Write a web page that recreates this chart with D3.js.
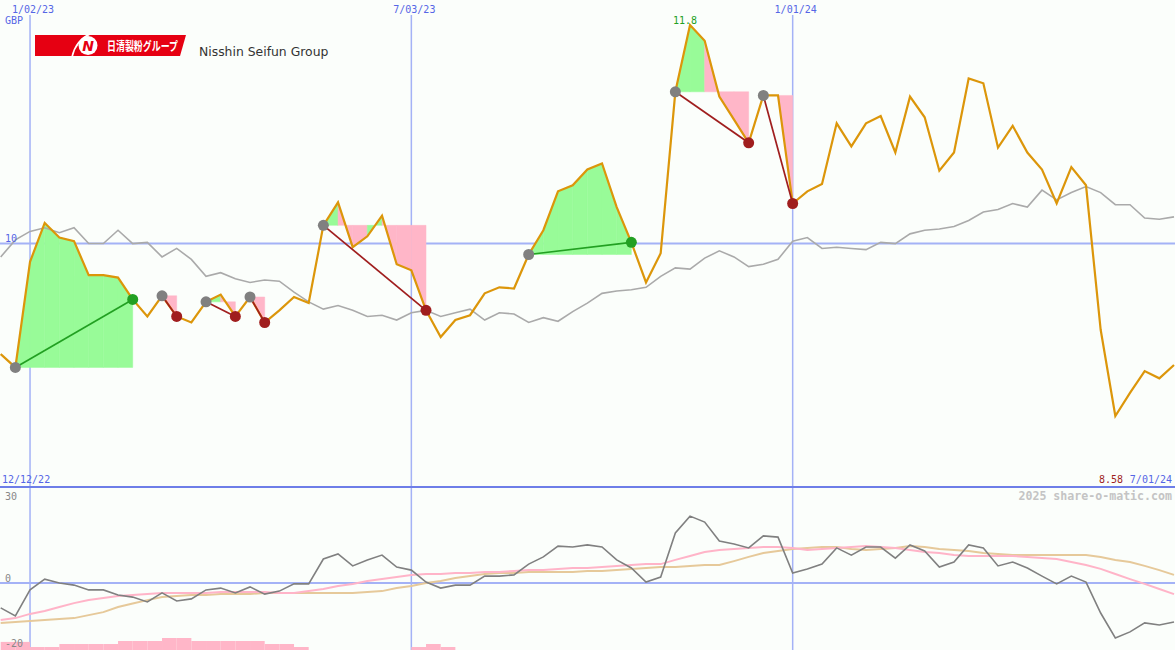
<!DOCTYPE html>
<html><head><meta charset="utf-8">
<script src="https://cdn.jsdelivr.net/npm/d3@7"></script>
<style>body{margin:0;background:#fbfefb}svg{display:block}</style>
</head><body><svg id="c" width="1175" height="650"></svg>
<script>
// ---------- data ----------
const startWeek = "2022-12-19", endWeek = "2024-07-01";
const price = [9.09, 8.98, 9.85, 10.17, 10.05, 10.02, 9.74, 9.74, 9.72, 9.54,
  9.40, 9.57, 9.40, 9.35, 9.52, 9.58, 9.40, 9.56, 9.35, 9.45,
  9.56, 9.51, 10.15, 10.34, 9.97, 10.06, 10.23, 9.83, 9.78, 9.45,
  9.23, 9.37, 9.41, 9.59, 9.64, 9.63, 9.91, 10.11, 10.43, 10.48,
  10.61, 10.66, 10.30, 10.01, 9.68, 9.92, 11.25, 11.80, 11.67, 11.21,
  11.02, 10.83, 11.22, 11.22, 10.33, 10.43, 10.49, 10.99, 10.80, 10.99,
  11.05, 10.75, 11.21, 11.04, 10.60, 10.75, 11.36, 11.32, 10.79, 10.97,
  10.75, 10.61, 10.33, 10.63, 10.48, 9.29, 8.58, 8.77, 8.95, 8.89, 9.00];
const compare = [9.89, 10.03, 10.10, 10.13, 10.09, 10.13, 10.00, 10.00, 10.11, 10.00,
  10.01, 9.89, 9.96, 9.87, 9.73, 9.76, 9.71, 9.68, 9.70, 9.69,
  9.60, 9.52, 9.46, 9.49, 9.45, 9.40, 9.41, 9.37, 9.43, 9.45,
  9.40, 9.43, 9.46, 9.37, 9.43, 9.42, 9.35, 9.39, 9.36, 9.44,
  9.51, 9.59, 9.61, 9.62, 9.64, 9.73, 9.80, 9.79, 9.88, 9.94,
  9.89, 9.81, 9.83, 9.87, 10.02, 10.05, 9.96, 9.97, 9.96, 9.95,
  10.01, 10.00, 10.08, 10.11, 10.12, 10.14, 10.19, 10.26, 10.28, 10.33,
  10.30, 10.44, 10.36, 10.42, 10.47, 10.42, 10.32, 10.32, 10.21, 10.20, 10.22];
const momentum = [-8.3, -11, -2.3, 1.3, 0, -0.7, -2.3, -2.3, -4, -4.7,
  -6.3, -3.3, -6, -5.3, -2.3, -1.7, -3.3, -1.3, -3.7, -2.7,
  -0.3, -0.3, 8, 9.7, 5.7, 7.7, 9.3, 5.3, 4.3, 0.3,
  -1.7, -0.7, -0.7, 2.3, 2.3, 2.7, 6.3, 8.7, 12.3, 12,
  12.7, 12, 7.7, 5, 0.3, 2, 16.7, 22.3, 20.3, 14,
  13, 11.7, 15.7, 15.3, 3.3, 4.7, 6.3, 11.7, 9.3, 12,
  12, 8.3, 12.7, 10.7, 5.3, 7, 12.7, 11.7, 5.7, 7,
  5, 2.3, -0.3, 2.3, 0.3, -10, -18.3, -16.3, -13.3, -14, -13];
const smoothFast = [-12.3, -11.7, -10.3, -9.3, -8, -6.7, -5.7, -5, -4.3, -4,
  -3.7, -3.3, -3.3, -3.3, -3.3, -3, -3, -3, -3, -3.3,
  -3.3, -2.7, -2, -1, -0.3, 0.7, 1.3, 2, 2.7, 3,
  3, 3.3, 3.3, 3.7, 3.7, 4, 4.3, 4.3, 4.7, 5,
  5, 5.3, 5.7, 6, 6.3, 6.3, 7.7, 9, 10.3, 11,
  11.3, 11.7, 12, 12, 11.7, 11, 11.3, 11.7, 12, 12.3,
  12, 11.7, 11, 10.3, 10, 9.3, 9, 9, 9, 9,
  8.7, 8.3, 8, 7, 6, 4.7, 3, 1.3, -0.3, -2, -3.7];
const smoothSlow = [-13.3, -13, -12.7, -12.3, -12, -11.7, -10.7, -9.7, -8, -6.8,
  -5.7, -4.7, -4.3, -4, -4, -3.7, -3.7, -3.7, -3.3, -3.3,
  -3.3, -3.3, -3.3, -3.3, -3.3, -3, -2.7, -1.7, -1, 0,
  0.7, 1.7, 2.3, 3, 3.3, 3.3, 3.7, 3.7, 3.7, 3.7,
  4, 4, 4.3, 4.7, 5, 5.3, 5.3, 5.7, 6, 6,
  7.3, 8.7, 10, 10.7, 11.3, 11.7, 12, 12, 11.3, 11,
  11.3, 11.7, 12.3, 12, 11.3, 11, 10.7, 10, 9.7, 9.3,
  9.3, 9.3, 9.3, 9.3, 9.3, 8.7, 7.7, 7, 5.7, 4.3, 2.7];
const riskBars = [2.7, 2.7, 1, 1, 2, 2, 2, 2, 3, 3, 3, 4, 4, 3, 3, 3, 3, 3, 2, 2, 1,
  0, 0, 0, 0, 0, 0, 0, 1, 2, 1];
const trades = [[1, 9], [11, 12], [14, 16], [17, 18], [22, 29], [36, 43], [46, 51], [52, 54]];
const dateTicks = ["2023-01-02", "2023-07-03", "2024-01-01"];
const priceTicks = [10];
const lowerTicks = [30, 0, -20];
const leftCornerLabel = "12/12/22", rightCornerLabel = "7/01/24";
const currency = "GBP";
const companyName = "Nisshin Seifun Group";
const logoText = "日清製粉グループ";
const credit = "2025 share-o-matic.com";

// ---------- setup ----------
const W = 1175, H = 650, SPLIT = 487;
const parse = d3.timeParse("%Y-%m-%d");
const weeks = d3.timeMonday.range(parse(startWeek), d3.timeDay.offset(parse(endWeek), 1));
const x = d3.scaleTime().domain([weeks[0], weeks[weeks.length - 1]]).range([0.7, 1174]);
const yMain = d3.scaleLinear().domain([8.58, 11.8]).range([416, 25]);
const yLow = d3.scaleLinear().domain([-22.33, 30]).range([650, 493]);
const fmtDate = d3.timeFormat("%-m/%d/%y");
const mono = "'DejaVu Sans Mono', monospace";
const C = {
  grid: "#a4b2f6", divider: "#6e7ee8", label: "#5566e6",
  price: "#dc960a", compare: "#aaaaaa", mom: "#808080",
  fast: "#ffb4c8", slow: "#e6c99a", green: "#98fb98", pink: "#ffb6c8",
  gLine: "#22a022", rLine: "#a01e1e", entry: "#808080"
};

const svg = d3.select("#c");
svg.append("rect").attr("width", W).attr("height", H).attr("fill", "#fbfefb");
const defs = svg.append("defs");
defs.append("clipPath").attr("id", "mainClip").append("rect").attr("x", 0).attr("y", 0).attr("width", W).attr("height", SPLIT);
defs.append("clipPath").attr("id", "lowClip").append("rect").attr("x", 0).attr("y", SPLIT).attr("width", W).attr("height", H - SPLIT);

// ---------- grid ----------
const grid = svg.append("g");
dateTicks.forEach(d => {
  const xx = x(parse(d));
  grid.append("line").attr("x1", xx).attr("x2", xx).attr("y1", 15).attr("y2", H)
    .attr("stroke", C.grid).attr("stroke-width", 1.5);
});
priceTicks.forEach(v => {
  grid.append("line").attr("x1", 0).attr("x2", W).attr("y1", yMain(v)).attr("y2", yMain(v))
    .attr("stroke", C.grid).attr("stroke-width", 2);
});
grid.append("line").attr("x1", 0).attr("x2", W).attr("y1", yLow(0)).attr("y2", yLow(0))
  .attr("stroke", C.grid).attr("stroke-width", 2);

// ---------- lower panel ----------
const low = svg.append("g").attr("clip-path", "url(#lowClip)");
riskBars.forEach((h, i) => {
  if (h <= 0) return;
  const x0 = x(weeks[i]), x1 = x(weeks[i + 1]);
  low.append("rect").attr("x", x0).attr("width", x1 - x0)
    .attr("y", yLow(-22.33 + h)).attr("height", yLow(-22.33) - yLow(-22.33 + h))
    .attr("fill", C.pink);
});
const lineLow = d3.line().x((d, i) => x(weeks[i])).y(d => yLow(d));
low.append("path").attr("d", lineLow(smoothSlow)).attr("fill", "none").attr("stroke", C.slow).attr("stroke-width", 2);
low.append("path").attr("d", lineLow(smoothFast)).attr("fill", "none").attr("stroke", C.fast).attr("stroke-width", 2);
low.append("path").attr("d", lineLow(momentum)).attr("fill", "none").attr("stroke", C.mom).attr("stroke-width", 1.6);

// ---------- main panel ----------
const main = svg.append("g").attr("clip-path", "url(#mainClip)");
const px = i => x(weeks[i]);
// trade fills
trades.forEach(([a, b]) => {
  const ey = yMain(price[a]);
  for (let i = a; i < b; i++) {
    const col = price[i + 1] >= price[a] ? C.green : C.pink;
    main.append("path")
      .attr("d", `M${px(i)},${ey}L${px(i)},${yMain(price[i])}L${px(i + 1)},${yMain(price[i + 1])}L${px(i + 1)},${ey}Z`)
      .attr("fill", col).attr("stroke", col).attr("stroke-width", 0.5);
  }
});
const lineMain = d3.line().x((d, i) => px(i)).y(d => yMain(d));
main.append("path").attr("d", lineMain(compare)).attr("fill", "none").attr("stroke", C.compare).attr("stroke-width", 1.6);
main.append("path").attr("d", lineMain(price)).attr("fill", "none").attr("stroke", C.price).attr("stroke-width", 2.2);
trades.forEach(([a, b]) => {
  const gain = price[b] > price[a];
  main.append("line").attr("x1", px(a)).attr("y1", yMain(price[a])).attr("x2", px(b)).attr("y2", yMain(price[b]))
    .attr("stroke", gain ? C.gLine : C.rLine).attr("stroke-width", 1.7);
});
trades.forEach(([a, b]) => {
  const gain = price[b] > price[a];
  main.append("circle").attr("cx", px(a)).attr("cy", yMain(price[a])).attr("r", 5.5).attr("fill", C.entry);
  main.append("circle").attr("cx", px(b)).attr("cy", yMain(price[b])).attr("r", 5.5).attr("fill", gain ? C.gLine : C.rLine);
});

// divider
svg.append("line").attr("x1", 0).attr("x2", W).attr("y1", SPLIT).attr("y2", SPLIT)
  .attr("stroke", C.divider).attr("stroke-width", 2);

// ---------- texts ----------
const txt = (xx, yy, s, opt = {}) => svg.append("text").attr("x", xx).attr("y", yy).text(s)
  .attr("font-family", opt.family || mono).attr("font-size", opt.size || 10)
  .attr("font-weight", opt.weight || "normal")
  .attr("fill", opt.fill || C.label).attr("text-anchor", opt.anchor || "start");

dateTicks.forEach(d => txt(x(parse(d)) + 3, 13, fmtDate(parse(d)), { anchor: "middle" }));
txt(5, 24, currency);
priceTicks.forEach(v => txt(5, yMain(v) - 1.5, String(v)));
const maxI = d3.maxIndex(price);
txt(px(maxI) - 5, yMain(price[maxI]) - 1, d3.format(".1f")(price[maxI]), { anchor: "middle", fill: "#22a022" });
txt(2, 483, leftCornerLabel);
txt(1172, 483, rightCornerLabel, { anchor: "end" });
const minI = d3.minIndex(price);
txt(1123, 483, d3.format(".2f")(price[minI]), { anchor: "end", fill: "#a01e1e" });
txt(1172, 500, credit, { anchor: "end", fill: "#c4c4c4", weight: "bold", size: 11.6 });
const lowOff = { "30": 7, "0": -1, "-20": 4 };
lowerTicks.forEach(v => txt(5, yLow(v) + lowOff[String(v)], String(v), { fill: "#888888" }));

// ---------- logo ----------
const logo = svg.append("g");
logo.append("path").attr("d", "M35,35L186,35L180,56L35,56Z").attr("fill", "#e60012");
logo.append("path").attr("d", "M72,57 Q76,40 90,34").attr("fill", "none").attr("stroke", "#fff").attr("stroke-width", 1.6);
logo.append("circle").attr("cx", 88).attr("cy", 45.5).attr("r", 9.5).attr("fill", "#fff");
logo.append("text").attr("x", 88).attr("y", 50.5).attr("text-anchor", "middle")
  .attr("font-family", "'DejaVu Sans', sans-serif").attr("font-weight", "bold").attr("font-style", "italic")
  .attr("font-size", 14).attr("fill", "#e60012").text("N");
logo.append("text").attr("x", 107).attr("y", 50.5).attr("textLength", 71).attr("lengthAdjust", "spacingAndGlyphs")
  .attr("font-family", "'Noto Sans CJK JP', sans-serif").attr("font-weight", "bold")
  .attr("font-size", 12.5).attr("fill", "#fff").text(logoText);
txt(199, 55.5, companyName, { family: "'DejaVu Sans', sans-serif", size: 12.4, fill: "#333333" });
</script></body></html>
